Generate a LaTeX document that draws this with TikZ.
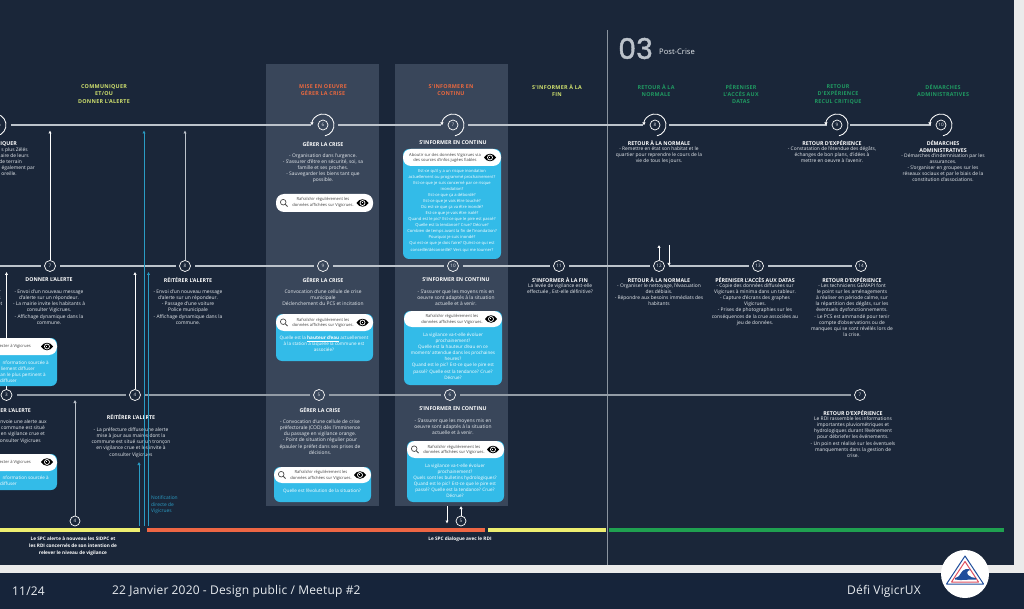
\documentclass[tikz,border=0pt]{standalone}
\usepackage{fontspec}
\usetikzlibrary{arrows.meta,calc}
\setmainfont{Open Sans}
\newfontfamily\hdfont[LetterSpace=5]{Open Sans}
\newfontfamily\ftfont[LetterSpace=1.5]{Open Sans}
\newfontfamily\popfont[FakeBold=1.5]{Poppins}
\definecolor{bgc}{HTML}{1A2639}
\definecolor{footc}{HTML}{16243A}
\definecolor{stripc}{HTML}{EBEBEB}
\definecolor{panelc}{HTML}{39465A}
\definecolor{cardc}{HTML}{33BBE8}
\definecolor{linec}{HTML}{BCC3CB}
\definecolor{bodyc}{HTML}{E8ECF0}
\definecolor{yelc}{HTML}{EEEE70}
\definecolor{redc}{HTML}{EE6644}
\definecolor{grnc}{HTML}{1FA050}
\definecolor{hyel}{HTML}{CFE06E}
\definecolor{hred}{HTML}{E8683F}
\definecolor{hgrn}{HTML}{209A62}
\definecolor{bluec}{HTML}{2A9CC4}
\definecolor{logob}{HTML}{1F4E9C}
\definecolor{logor}{HTML}{E05060}
\tikzset{
 bodytxt/.style={anchor=north,inner sep=0pt,align=center,text=bodyc,font=\fontsize{4.9}{6.05}\selectfont},
 titletxt/.style={anchor=north,inner sep=0pt,align=center,text=white,font=\fontsize{5.3}{6.6}\selectfont\bfseries},
 fragtxt/.style={anchor=north east,inner sep=0pt,align=right,text=bodyc,font=\fontsize{4.9}{6.05}\selectfont},
 fragtitle/.style={anchor=north east,inner sep=0pt,align=right,text=white,font=\fontsize{5.3}{6.6}\selectfont\bfseries},
 headtxt/.style={anchor=north,inner sep=0pt,align=center,font=\fontsize{5.4}{7.1}\hdfont\bfseries},
 cardtxt/.style={anchor=north,inner sep=0pt,align=center,text=white,font=\fontsize{4.6}{6.05}\selectfont},
 cardsmall/.style={cardtxt,font=\fontsize{4.1}{6.05}\selectfont},
 cardfrag/.style={anchor=north east,inner sep=0pt,align=right,text=white,font=\fontsize{4.6}{6.05}\selectfont},
 pilltxt/.style={anchor=north,inner sep=0pt,align=center,text=black!75,font=\fontsize{4.1}{5.1}\selectfont},
 pillfrag/.style={anchor=north east,inner sep=0pt,align=right,text=black!75,font=\fontsize{4.1}{5.1}\selectfont},
 num/.style={circle,draw=white,line width=0.7pt,inner sep=0pt,minimum size=11pt,text=bodyc,font=\fontsize{4.6}{5}\selectfont},
 numb/.style={num,minimum size=10pt},
 conn/.style={draw=linec,line width=1.05pt,shorten <=4.5pt,shorten >=3pt},
 connd/.style={draw=linec!75!bgc,line width=1.05pt,shorten <=4.5pt,shorten >=3pt},
 arrw/.style={draw=white,line width=0.8pt,-{Latex[length=3pt,width=3.4pt]}},
 arrb/.style={draw=bluec,line width=0.8pt,-{Latex[length=3pt,width=3.4pt]}},
 spir/.style={draw=white,line width=0.85pt,-{Latex[length=3pt,width=3.6pt]}},
}
\newcommand{\Bd}[4]{\node[bodytxt] (#1) at (#2,{#3-2.2}) {\rule{0pt}{3.8pt}#4};}
\newcommand{\Ti}[4]{\node[titletxt] (#1) at (#2,{#3-2.4}) {\rule{0pt}{4.1pt}#4};}
\newcommand{\Frag}[4]{\node[fragtxt] (#1) at (#2,{#3-2.2}) {\rule{0pt}{3.8pt}#4};}
\newcommand{\Hd}[5]{\node[headtxt,text=#5] (#1) at (#2,{#3-2.6}) {\rule{0pt}{4.3pt}#4};}
\newcommand{\Ct}[4]{\node[cardtxt] (#1) at (#2,{#3-2.2}) {\rule{0pt}{3.7pt}#4};}
\newcommand{\Cf}[4]{\node[cardfrag] (#1) at (#2,{#3-2.2}) {\rule{0pt}{3.7pt}#4};}
\newcommand{\Pt}[4]{\node[pilltxt] (#1) at (#2,{#3-2}) {\rule{0pt}{3.2pt}#4};}
% card: x1,y1,x2,yh,y2
\newcommand{\CardB}[5]{\fill[cardc,rounded corners=6pt] (#1,#2) rectangle (#3,#5);\fill[white,rounded corners=8pt] (#1,#2) rectangle (#3,#4);}
\newcommand{\Pill}[4]{\fill[white,rounded corners=8pt] (#1,#2) rectangle (#3,#4);}
\newcommand{\Eye}[2]{\begin{scope}[shift={(#1,#2)}]
 \fill[black] (-6,0) .. controls (-3,-5) and (3,-5) .. (6,0) .. controls (3,5) and (-3,5) .. cycle;
 \fill[white] (0,0) circle[radius=2.9pt];
 \fill[black] (0,0) circle[radius=2pt];
 \fill[white] (-0.9,-0.9) rectangle (0.1,0.1);
\end{scope}}
\newcommand{\Loupe}[2]{\begin{scope}[shift={(#1,#2)}]
 \draw[black!70,line width=0.7pt] (-0.8,-0.8) circle[radius=2.8pt];
 \draw[black!70,line width=0.8pt] (1.3,1.3) -- (3.6,3.6);
\end{scope}}
\newcommand{\Spiral}[1]{\draw[spir] ($(#1)+(-80:11pt)$) arc[start angle=-80,end angle=182,radius=11pt];}
\begin{document}
\begin{tikzpicture}[x=1pt,y=-1pt]
\useasboundingbox (0,0) rectangle (1024,609);
\clip (0,0) rectangle (1024,609);
\fill[stripc] (0,0) rectangle (1024,609);
\fill[bgc] (0,0) rectangle (1014,565);
\fill[footc] (0,573) rectangle (1024,609);
% panels
\fill[panelc] (266,64) rectangle (379,506);
\fill[panelc] (395,64) rectangle (508,506);
% post-crise separator
\coordinate (sepT) at (607.5,30);
\coordinate (sepB) at (607.5,565);
\draw[draw=linec!70!bgc,line width=0.8pt] (sepT) -- (sepB);
% headers
\Hd{h1}{104}{87}{COMMUNIQUER\\ET/OU\\DONNER L'ALERTE}{hyel}
\Hd{h2}{323}{87}{MISE EN OEUVRE\\GÉRER LA CRISE}{hred}
\Hd{h3}{451}{87}{S'INFORMER EN\\CONTINU}{hred}
\Hd{h4}{557}{87}{S'INFORMER À LA\\FIN}{hyel}
\Hd{h5}{656}{87}{RETOUR À LA\\NORMALE}{hgrn}
\Hd{h6}{741}{87}{PÉRENISER\\L'ACCÈS AUX\\DATAS}{hgrn}
\Hd{h7}{838}{87}{RETOUR\\D'EXPÉRIENCE\\RECUL CRITIQUE}{hgrn}
\Hd{h8}{943}{87}{DÉMARCHES\\ADMINISTRATIVES}{hgrn}
\node[anchor=west,inner sep=0pt,text=linec,font=\fontsize{28.5}{30}\popfont] (big03) at (618,48.5) {03};
\node[anchor=west,inner sep=0pt,text=bodyc,font=\fontsize{7.6}{9}\selectfont] (post) at (659,52) {Post-Crise};
% row nodes
\node[numb] (t0) at (-5,125) {};
\node[numb] (t6) at (323,125) {6};
\node[numb] (t7) at (453,125) {7};
\node[numb] (t8) at (655,125) {8};
\node[numb] (t9) at (837,125) {9};
\node[numb] (t10) at (941,125) {10};
\node[num] (m7) at (50,266) {7};
\node[num] (m8) at (185,266) {8};
\node[num] (m9) at (323,266) {9};
\node[num] (m10) at (453,266) {10};
\node[num] (m11) at (559,266) {11};
\node[num] (m12) at (659,266) {12};
\node[num] (m13) at (758,266) {13};
\node[num] (m14) at (861,266) {14};
\node[num] (b3) at (6.5,395) {3};
\node[num] (b4) at (135,395) {4};
\node[num] (b5) at (319,395) {5};
\node[num] (b6) at (450,395) {6};
\node[num] (b7) at (860,395) {7};
\node[numb] (x4) at (75,521) {4};
\node[numb] (x5) at (461,521) {5};
\coordinate (m0) at (-10,266);
% top line with spirals
\draw[conn,shorten <=10.5pt,shorten >=6.5pt] (t0) -- (t6);
\draw[conn,shorten <=10pt,shorten >=6.5pt] (t6) -- (t7);
\draw[conn,shorten <=10pt,shorten >=6.5pt] (t7) -- (t8);
\draw[conn,shorten <=9pt,shorten >=5pt] (t8) -- (t9);
\draw[conn,shorten <=8pt,shorten >=5pt] (t9) -- (t10);
\Spiral{t0}\Spiral{t6}\Spiral{t7}\Spiral{t8}\Spiral{t9}\Spiral{t10}
% middle line
\draw[conn] (m0) -- (m7);
\draw[conn] (m7) -- (m8);
\draw[conn] (m8) -- (m9);
\draw[conn] (m9) -- (m10);
\draw[conn] (m10) -- (m11);
\draw[conn] (m11) -- (m12);
\draw[conn] (m12) -- (m13);
\draw[conn] (m13) -- (m14);
% lower line
\draw[connd] (b3) -- (b4);
\draw[connd] (b4) -- (b5);
\draw[connd] (b5) -- (b6);
\draw[connd] (b6) -- (b7);
% white arrows
\coordinate (a7) at (50,130.5);
\coordinate (a8) at (185,130.5);
\coordinate (a3) at (6.5,272);
\coordinate (a4) at (135,272);
\coordinate (a4b) at (75,400);
\draw[arrw] (m7) -- (a7);
\draw[arrw,draw=linec] (m8) -- (a8);
\draw[arrw] (b3) -- (a3);
\draw[arrw] (b4) -- (a4);
\draw[arrw,draw=linec] (x4) -- (a4b);
\coordinate (d5a) at (447,506);
\coordinate (d5b) at (447,523.5);
\coordinate (u5) at (461,506);
\draw[arrw] (d5a) -- (d5b);
\draw[arrw] (x5) -- (u5);
\coordinate (u12) at (659,245);
\coordinate (d12a) at (669,245);
\coordinate (d12b) at (669,266);
\draw[arrw] (m12) -- (u12);
\draw[arrw] (d12a) -- (d12b);
% left fragments top
\node[fragtitle] (f0) at (17,141.2) {\rule{0pt}{4.1pt}IQUER};
\Frag{f1}{28}{150}{s plus Zélés}
\Frag{f2}{29}{156}{aire de leurs}
\Frag{f3}{22}{162}{de terrain}
\Frag{f4}{35}{168}{e également par}
\Frag{f5}{17}{174}{u oreille.}
\Frag{f6}{1}{292}{r}
\Frag{f7}{1}{298}{s}
\Frag{f8}{2.5}{304}{et}
% middle-left cards
\CardB{-30}{338}{57}{355}{386}
\Eye{47}{346.5}
\node[pillfrag] (g0) at (31,344.5) {\rule{0pt}{3.2pt}ecter à Vigicrues};
\Cf{g1}{49}{362.5}{nformation sourcée à}
\Cf{g2}{35}{369}{liement diffuser}
\Cf{g3}{46}{375}{an  le plus pertinent à}
\Cf{g4}{17}{381}{diffuser}
\CardB{-30}{454}{57}{471}{490}
\Eye{47}{462}
\node[pillfrag] (k0) at (31,460) {\rule{0pt}{3.2pt}ecter à Vigicrues};
\Cf{k1}{49}{477.5}{nformation sourcée à}
\Cf{k2}{17}{484}{diffuser}
\node[fragtitle] (f9) at (31,407.8) {\rule{0pt}{4.1pt}ER L'ALERTE};
\Frag{f10}{47}{422}{envoie une alerte aux}
\Frag{f11}{45}{428}{commune est situé}
\Frag{f12}{45}{434}{en vigilance crue et}
\Frag{f13}{41}{441}{consulter Vigicrues}
% texts col
\Ti{t71}{49}{279.5}{DONNER L'ALERTE}
\Bd{t72}{49}{292}{- Envoi d'un nouveau message\\d'alerte sur un répondeur.\\- La mairie invite les habitants à\\consulter Vigicrues.\\- Affichage dynamique dans la\\commune.}
\Ti{t81}{188}{279.5}{RÉITÉRER L'ALERTE}
\Bd{t82}{188}{292}{- Envoi d'un nouveau message\\d'alerte sur un répondeur.\\- Passage d'une voiture\\Police municipale\\- Affichage dynamique dans la\\commune.}
\Ti{t41}{131}{417}{RÉITÉRER L'ALERTE}
\Bd{t42}{131}{430}{- La préfecture diffuse une alerte\\mise à jour aux maires dont la\\commune est situé sur un tronçon\\en vigilance crue et les invite à\\consulter Vigicrues}
% panel 1
\Ti{p1}{323}{143.5}{GÉRER LA CRISE}
\Bd{p2}{323}{156}{- Organisation dans l'urgence.\\- S'assurer d'être en sécurité, soi, sa\\famille et ses proches.\\- Sauvegarder les biens tant que\\possible.}
\Pill{276}{194}{373}{212}
\Loupe{284}{203}\Eye{362.5}{203}
\Pt{p3}{323}{199.6}{Rafraîchir régulièrement les\\données affichées sur Vigicrues.}
\Ti{p4}{323}{279.5}{GÉRER LA CRISE}
\Bd{p5}{323}{292}{Convocation d'une cellule de crise\\municipale\\Déclenchement du PCS et incitation}
\CardB{276}{314}{373}{331}{361}
\Loupe{284}{322.5}\Eye{362.5}{322.5}
\Pt{p6}{323}{320}{Rafraîchir régulièrement les\\données affichées sur Vigicrues.}
\Ct{p7}{324}{338}{Quelle est la \underline{\textbf{hauteur d'eau}} actuellement\\à la station à laquelle la commune est\\associée?}
\Ti{p8}{320}{410}{GÉRER LA CRISE}
\Bd{p9}{320}{422}{- Convocation d'une cellule de crise\\préfectorale (COD) dès l'imminence\\du passage en vigilance orange.\\- Point de situation régulier pour\\épauler le préfet dans ses prises de\\décisions.}
\CardB{274}{467}{371}{483}{502}
\Loupe{282}{475}\Eye{360}{475}
\Pt{p10}{321}{472.5}{Rafraîchir régulièrement les\\données affichées sur Vigicrues.}
\Ct{p11}{322}{491}{Quelle est l'évolution de la situation?}
% panel 2
\Ti{q1}{453}{143}{S'INFORMER EN CONTINU}
\CardB{403}{149}{501}{166}{259}
\Eye{490}{157.5}
\Pt{q2}{445}{155}{Aboutir sur des données Vigicrues via\\des sources d'infos jugées fiables}
\node[cardsmall] (q3) at (452,168.8) {\rule{0pt}{3.4pt}Est-ce qu'il y a un risque inondation\\actuellement ou programmé prochainement?\\Est-ce que je suis concerné par ce risque\\inondation?\\Est-ce que ça a débordé?\\Est-ce que je vais être touché?\\Où est-ce que ça va être inondé?\\Est-ce que je vais être isolé?\\Quand est le pic? Est-ce que le pire est passé?\\Quelle est la tendance? Crue? Décrue?\\Combien de temps avant la fin de l'inondation?\\Pourquoi je suis inondé?\\Qui est-ce que je dois faire? Qu'est-ce qui est\\conseillé/déconseillé? Vers qui me tourner?};
\Ti{q4}{456}{279.5}{S'INFORMER EN CONTINU}
\Bd{q5}{456}{292}{- S'assurer que les moyens mis en\\oeuvre sont adaptés à la situation\\actuelle et à venir.}
\CardB{404}{311}{502}{327}{385}
\Eye{491}{319}
\Pt{q6}{452}{316.5}{Rafraîchir régulièrement les\\données affichées sur Vigicrues.}
\Ct{q7}{453}{335}{La vigilance va-t-elle évoluer\\prochainement?\\Quelle est la hauteur d'eau en ce\\moment/ attendue dans les prochaines\\heures?\\Quand est le pic? Est-ce que le pire est\\passé? Quelle est la tendance? Crue?\\Décrue?}
\Ti{q8}{453}{409}{S'INFORMER EN CONTINU}
\Bd{q9}{453}{421}{- S'assurer que les moyens mis en\\oeuvre sont adaptés à la situation\\actuelle et à venir.}
\CardB{407}{441}{504}{458}{502}
\Loupe{415}{449.5}\Eye{493}{449.5}
\Pt{q10}{454}{447}{Rafraîchir régulièrement les\\données affichées sur Vigicrues.}
\Ct{q11}{455}{466}{La vigilance va-t-elle évoluer\\prochainement?\\Quels sont les bulletins hydrologiques?\\Quand est le pic? Est-ce que le pire est\\passé? Quelle est la tendance? Crue?\\Décrue?}
% right columns
\Ti{r1}{560}{279.5}{S'INFORMER À LA FIN}
\Bd{r2}{560}{286}{La levée de vigilance est-elle\\effectuée , Est-elle définitive?}
\Ti{r3}{659}{143}{RETOUR À LA NORMALE}
\Bd{r4}{659}{149}{- Remettre en état son habitat et le\\quartier pour reprendre le cours de la\\vie de tous les jours.}
\Ti{r5}{659}{279.5}{RETOUR À LA NORMALE}
\Bd{r6}{659}{286}{- Organiser le nettoyage, l'évacuation\\des débiais.\\- Répondre aux besoins immédiats des\\habitants}
\Ti{r7}{755}{279.5}{PÉRENISER L'ACCÈS AUX DATAS}
\Bd{r8}{755}{286}{- Copie des données diffusées sur\\Vigicrues à minima dans un tableur.\\- Capture d'écrans des graphes\\Vigicrues.\\- Prises de photographies sur les\\conséquences de la crue associées au\\jeu de données.}
\Ti{r9}{852}{280}{RETOUR D'EXPÉRIENCE}
\Bd{r10}{852}{286}{- Les techniciens GEMAPI font\\le point sur les aménagements\\à réaliser en période calme, sur\\la répartition des dégâts, sur les\\éventuels dysfonctionnements.\\- Le PCS est ammandé pour tenir\\compte d'observations ou de\\manques qui se sont révélés lors de\\la crise.}
\Ti{r11}{853}{413}{RETOUR D'EXPÉRIENCE}
\Bd{r12}{853}{419}{Le RDI rassemble les informations\\importantes pluviométriques et\\hydrologiques durant l'événement\\pour débriefer les événements.\\- Un poin est réalisé sur les éventuels\\manquements dans la gestion de\\crise.}
\Ti{r13}{832}{143}{RETOUR D'EXPÉRIENCE}
\Bd{r14}{832}{149}{- Constatation de l'étendue des dégâts,\\échanges de bon plans, d'idées à\\mettre en oeuvre à l'avenir.}
\Ti{r15}{943}{143}{DÉMARCHES\\ADMINISTRATIVES}
\Bd{r16}{943}{156}{- Démarches d'indemnisation par les\\assurances.\\- S'organiser en groupes sur les\\réseaux sociaux et par le biais de la\\constitution d'associations.}
% bars
\fill[yelc] (-5,528) rectangle (140,532);
\fill[redc] (147,528) rectangle (485,532);
\fill[yelc] (488,528) rectangle (606,532);
\fill[grnc] (609,528) rectangle (1004,532);
% blue arrows
\coordinate (bl1) at (144,526);
\coordinate (bl1t) at (144,130.5);
\coordinate (bl2) at (148.5,526);
\coordinate (bl2t) at (148.5,272);
\coordinate (bl3) at (139,526);
\coordinate (bl3t) at (139,462);
\draw[arrb] (bl1) -- (bl1t);
\draw[arrb] (bl2) -- (bl2t);
\draw[arrb] (bl3) -- (bl3t);
\node[anchor=north west,inner sep=0pt,align=left,text=bluec,font=\fontsize{4.9}{6.3}\selectfont] (notif) at (151,495.8) {\rule{0pt}{3.8pt}Notification\\directe de\\Vigicrues};
% bottom notes
\node[anchor=north,inner sep=0pt,align=center,text=white,font=\fontsize{4.7}{6.6}\selectfont\bfseries] (n1) at (73,536.8) {\rule{0pt}{3.8pt}Le SPC alerte  à nouveau les SIDPC et\\les RDI concernés de son intention de\\relever le niveau de vigilance};
\node[anchor=north,inner sep=0pt,align=center,text=white,font=\fontsize{4.7}{6.6}\selectfont\bfseries] (n2) at (460,536.8) {\rule{0pt}{3.8pt}Le SPC dialogue avec le RDI};
% footer
\node[anchor=west,inner sep=0pt,text=bodyc,font=\fontsize{12}{14}\ftfont] (ft1) at (12,591) {11/24};
\node[anchor=west,inner sep=0pt,text=bodyc,font=\fontsize{12}{14}\ftfont] (ft2) at (112,591) {22 Janvier 2020 - Design public / Meetup \#2};
\node[anchor=west,inner sep=0pt,text=bodyc,font=\fontsize{12}{14}\ftfont] (ft3) at (847,591) {Défi VigicrUX};
% logo
\fill[white] (965,574) circle[radius=24pt];
\draw[logob,line width=1pt,line join=round] (965,556) -- (983.5,584) -- (946.5,584) -- cycle;
\draw[logor,line width=1pt,line join=round] (965,561.5) -- (978.5,582) -- (951.5,582) -- cycle;
\fill[logob] (955,578) .. controls (959,577) and (960,575) .. (961,573) .. controls (963,569) and (968,568) .. (971,570) .. controls (968,570) and (966,572) .. (968,575) .. controls (970,577) and (973,578) .. (976,578) -- (976,579.5) .. controls (969,579) and (962,581) .. (955,579.5) -- cycle;
\end{tikzpicture}
\end{document}
